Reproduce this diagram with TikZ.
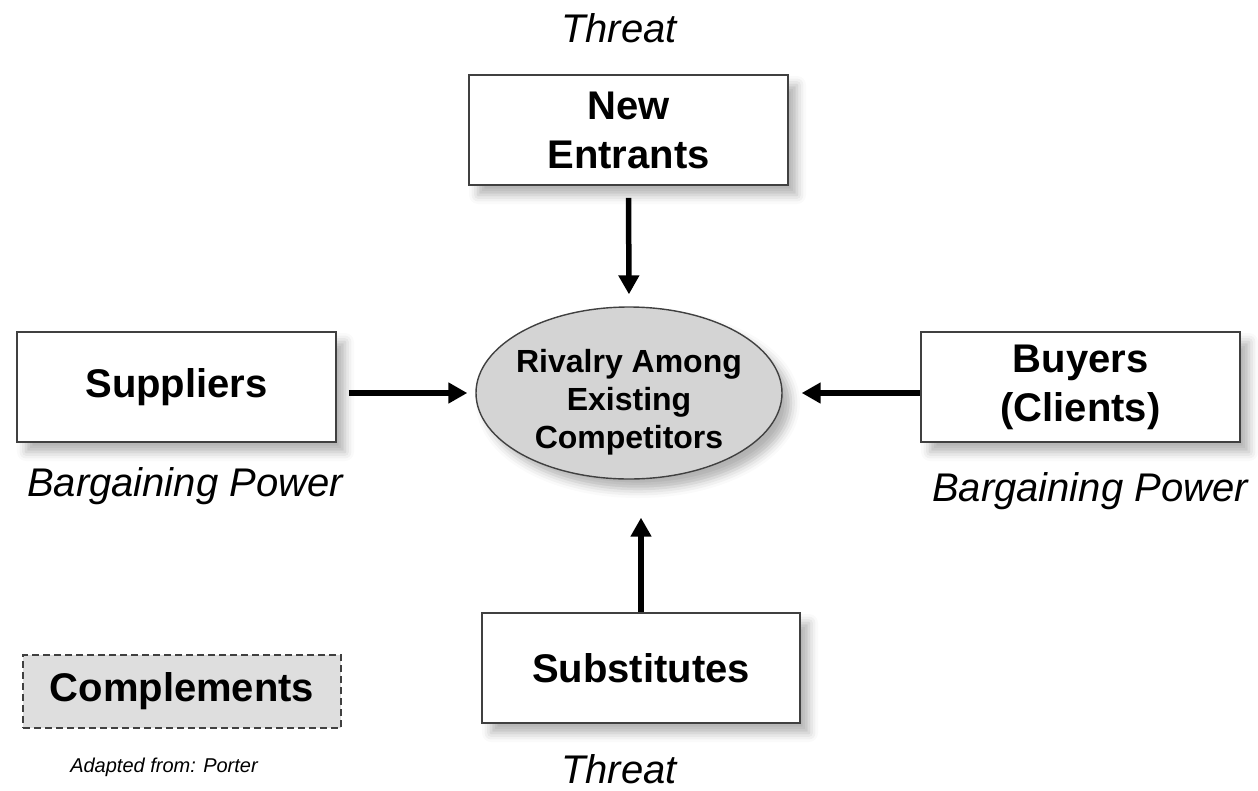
\documentclass[tikz,border=0pt]{standalone}
\usepackage{fontspec}
\setmainfont{Liberation Sans}
\usetikzlibrary{arrows.meta,shapes.geometric,shadows.blur}
\definecolor{boxline}{HTML}{404040}
\definecolor{ellfill}{HTML}{D4D4D4}
\definecolor{compfill}{HTML}{DEDEDE}
\tikzset{
  sh/.style={blur shadow={shadow xshift=9pt,shadow yshift=-10pt,shadow blur radius=9pt,shadow opacity=30}},
  forcebox/.style={draw=boxline,line width=1.6pt,fill=white,sh,minimum width=319pt,minimum height=110pt,
    align=center,inner sep=0pt,font=\fontsize{40}{49}\selectfont\bfseries},
  rivalry/.style={ellipse,draw=boxline,line width=1.4pt,fill=ellfill,sh,minimum width=306pt,minimum height=172pt,inner sep=0pt},
  rivtext/.style={align=center,inner sep=0pt,font=\fontsize{32}{38}\selectfont\bfseries},
  compbox/.style={draw=boxline,dashed,dash pattern=on 7pt off 4pt,line width=1.6pt,fill=compfill,minimum width=318pt,minimum height=73pt,
    inner sep=0pt,font=\fontsize{40}{48}\selectfont\bfseries},
  lbl/.style={inner sep=0pt,font=\fontsize{40}{48}\selectfont\itshape},
  note/.style={inner sep=0pt,font=\fontsize{20}{24}\selectfont\itshape},
  force/.style={line width=5.5pt,-{Triangle[length=19pt,width=20pt]}},
}
\begin{document}
\begin{tikzpicture}[x=1pt,y=-1pt]
\useasboundingbox (0,0) rectangle (1258,790);
\node[rivalry] (ell) at (629,393) {};
\node[rivtext] (rivtxt) at (629,402) {Rivalry Among\\Existing\\Competitors};
\node[forcebox] (new) at (628.5,130) {New\\Entrants};
\node[forcebox] (sup) at (176.5,387) {Suppliers};
\node[forcebox] (buy) at (1080.5,387) {Buyers\\(Clients)};
\node[forcebox,minimum width=318pt] (sub) at (641,668) {Substitutes};
\node[compbox] (comp) at (182,691.5) {Complements};
\node[lbl,anchor=base] (t1) at (619,42) {Threat};
\node[lbl,anchor=base] (t2) at (619,783) {Threat};
\node[lbl,anchor=base] (b1) at (185,496) {Bargaining Power};
\node[lbl,anchor=base] (b2) at (1090,501) {Bargaining Power};
\node[note,anchor=base] (src) at (164,772) {Adapted from: Porter};
\draw[force,shorten <=12pt,shorten >=12pt] (new.south) -- (ell.north);
\draw[force,shorten <=12pt,shorten >=8pt] (sup.east |- ell.west) -- (ell.west);
\draw[force,shorten >=19pt] (buy.west |- ell.east) -- (ell.east);
\draw[force,shorten >=38pt] (sub.north) -- (sub.north |- ell.south);
\end{tikzpicture}
\end{document}
